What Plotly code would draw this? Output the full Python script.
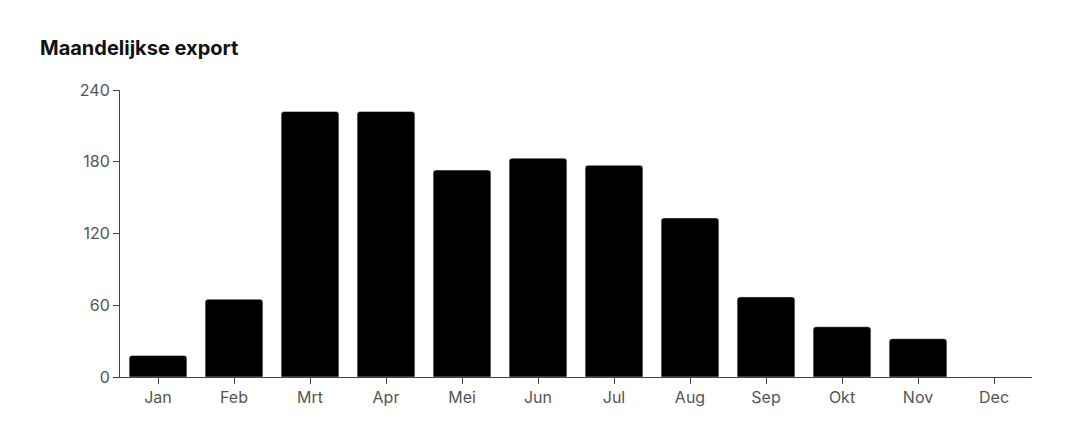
import plotly.graph_objects as go

months = ["Jan", "Feb", "Mrt", "Apr", "Mei", "Jun", "Jul", "Aug", "Sep", "Okt", "Nov", "Dec"]
export = [18, 65, 222, 222, 173, 183, 177, 133, 67, 42, 32, 0]
y_ticks = [0, 60, 120, 180, 240]

_TEXT = "#111111"
_MUTED = "#555555"
_AXIS = "#444444"

fig = go.Figure(
    go.Bar(
        x=months,
        y=export,
        marker=dict(color="#000000", cornerradius=3),
        hoverinfo="x+y",
    )
)

# page has an 8px body margin, so everything is shifted up/left by 8px
fig.update_layout(
    width=1072,
    height=448,
    paper_bgcolor="white",
    plot_bgcolor="white",
    font=dict(family="Inter, sans-serif", color=_MUTED, size=16),
    title=dict(
        text="<b>Maandelijkse export</b>",
        font=dict(size=20, color=_TEXT),
        x=32 / 1072,
        xanchor="left",
        y=1 - 40 / 448,
        yanchor="middle",
    ),
    margin=dict(l=112, r=48, t=82, b=79),
    bargap=0.24,
    showlegend=False,
    xaxis=dict(
        showline=True,
        linecolor=_AXIS,
        ticks="outside",
        tickcolor=_AXIS,
        ticklen=6,
        showgrid=False,
        tickfont=dict(size=16, color=_MUTED),
    ),
    yaxis=dict(
        range=[0, 240],
        tickvals=y_ticks,
        showline=True,
        linecolor=_AXIS,
        ticks="outside",
        tickcolor=_AXIS,
        ticklen=6,
        showgrid=False,
        zeroline=False,
        tickfont=dict(size=16, color=_MUTED),
    ),
)

fig.write_html("out.html")
